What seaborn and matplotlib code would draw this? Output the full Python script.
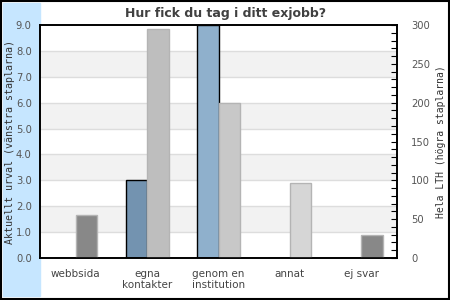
import matplotlib
matplotlib.use("Agg")
import matplotlib.pyplot as plt
from matplotlib.patches import Rectangle
from matplotlib.ticker import MultipleLocator, FormatStrFormatter
import numpy as np
import seaborn as sns

categories = ["webbsida", "egna\nkontakter", "genom en\ninstitution", "annat", "ej svar"]
urval = [0.0, 3.0, 9.0, 0.0, 0.0]          # left axis
hela_lth = [56, 295, 200, 96, 29]           # right axis
urval_colors = ["#7393B0", "#7393B0", "#8FB0CC", "#8FB0CC", "#8FB0CC"]
lth_colors = ["#888888", "#BEBEBE", "#C8C8C8", "#D6D6D6", "#888888"]

title = "Hur fick du tag i ditt exjobb?"
left_label = "Aktuellt urval (vänstra staplarna)"
right_label = "Hela LTH (högra staplarna)"

sns.set_style("white")
plt.rcParams["font.family"] = ["DejaVu Sans"]

fig = plt.figure(figsize=(4.5, 3.0), dpi=100)

# light blue side strip and outer frame
fig.patches.append(Rectangle((3 / 450, 4 / 300), 37 / 450, 293 / 300,
                             transform=fig.transFigure, color="#C6E6FF", zorder=-5))
fig.patches.append(Rectangle((0.5 / 450, 1.5 / 300), 448.5 / 450, 298 / 300,
                             transform=fig.transFigure, fill=False,
                             edgecolor="black", lw=1.5, zorder=5))

ax1 = fig.add_axes([40 / 450, 42 / 300, 357 / 450, 233 / 300])
ax2 = ax1.twinx()

pos = np.arange(len(categories))
left_x = pos - 0.15
right_x = pos + 0.15

# alternating bands and grid lines on the left scale
for lo in (1, 3, 5, 7):
    ax1.axhspan(lo, lo + 1, color="#F2F2F2", zorder=0, lw=0)
for v in range(1, 9):
    ax1.axhline(v, color="#DDDDDD", lw=1, zorder=0.5)

sns.barplot(x=left_x, y=urval, hue=list(range(len(categories))),
            palette=urval_colors, saturation=1, native_scale=True, width=0.3,
            dodge=False, legend=False, edgecolor="black", linewidth=1,
            ax=ax1, zorder=2)
sns.barplot(x=right_x, y=hela_lth, hue=list(range(len(categories))),
            palette=lth_colors, saturation=1, native_scale=True, width=0.3,
            dodge=False, legend=False, edgecolor="#B4B4B4", linewidth=1,
            ax=ax2, zorder=2)

ax1.set_xlim(-0.5, len(categories) - 0.5)
ax1.set_ylim(0, 9)
ax2.set_ylim(0, 300)

ax1.set_xticks(pos)
ax1.set_xticklabels(categories, fontsize=7.5, color="#444444",
                    va="top", linespacing=1.15)
ax1.tick_params(axis="x", length=0, pad=8)

ax1.yaxis.set_major_locator(MultipleLocator(1))
ax1.yaxis.set_major_formatter(FormatStrFormatter("%.1f"))
ax1.tick_params(axis="y", length=0, pad=6, labelsize=7.2, labelcolor="#555555")

ax2.yaxis.set_major_locator(MultipleLocator(50))
ax2.yaxis.set_minor_locator(MultipleLocator(10))
ax2.tick_params(axis="y", which="both", direction="in", length=4, width=0.8,
                color="black", pad=10, labelsize=7.2, labelcolor="#555555")

ax1.set_xlabel("")
ax1.set_ylabel(left_label, family="DejaVu Sans Mono", fontsize=7.2,
               color="#333333")
ax2.set_ylabel(right_label, family="DejaVu Sans Mono", fontsize=7,
               color="#333333")
ax1.yaxis.set_label_coords(-25 / 357, 0.5)
ax2.yaxis.set_label_coords(1 + 39 / 357, 0.5)

for ax in (ax1, ax2):
    for sp in ax.spines.values():
        sp.set_visible(True)
        sp.set_color("black")
        sp.set_linewidth(1.2)
ax1.set_facecolor("white")
ax2.patch.set_visible(False)

fig.text(226 / 450, 1 - 13 / 300, title, ha="center", va="center",
         fontsize=9, fontweight="bold", color="#404040")

fig.savefig("out.png", dpi=100)
